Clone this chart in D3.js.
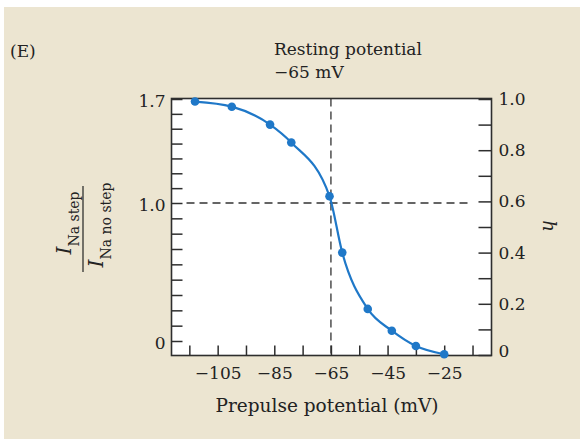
<!DOCTYPE html>
<html lang="en">
<head>
	<meta charset="UTF-8">
	<title>Sodium channel inactivation vs prepulse potential</title>
	<script src="https://d3js.org/d3.v7.min.js"></script>
	<style>
		body, html {
			margin: 0;
			padding: 0;
			background: #fff;
			overflow: hidden;
		}
		svg {
			display: block;
		}
		text {
			font-family: "DejaVu Serif", serif;
			fill: #222;
		}
		.axis text {
			font-size: 17px;
		}
		.axis line {
			stroke: #2e2e2e;
			stroke-width: 1.5;
		}
	</style>
</head>
<body>
	<svg></svg>

	<script>
		const prepulse = [-113, -100, -86.5, -79, -65.5, -61, -52, -43.5, -35, -25];
		const hValues = [0.99, 0.97, 0.90, 0.83, 0.62, 0.40, 0.18, 0.095, 0.035, 0.003];

		const xTicks = [-115, -105, -95, -85, -75, -65, -55, -45, -35, -25, -15];
		const xTickLabels = [-105, -85, -65, -45, -25];
		const hTicks = [0, 0.1, 0.2, 0.3, 0.4, 0.5, 0.6, 0.7, 0.8, 0.9, 1.0];
		const hTickLabels = [0, 0.2, 0.4, 0.6, 0.8, 1.0];
		const ratioTickLabels = [0, 1.0, 1.7];
		const restingPotential = -65;

		const width = 580, height = 439;
		const svg = d3.select("svg").attr("width", width).attr("height", height);

		// page background (scanned paper look)
		svg.append("rect").attr("x", 4).attr("y", 7)
			.attr("width", width - 4).attr("height", height - 7)
			.attr("fill", "#ece5d1");

		const plot = {left: 171.5, right: 491.5, top: 98.5, bottom: 355.5};

		const x = d3.scaleLinear().domain([-121.3, -8.3]).range([plot.left, plot.right]);
		const h = d3.scaleLinear().domain([0, 1]).range([355, 99]);
		// left axis is drawn unevenly in the original: 0..1.0 and 1.0..1.7
		const ratio = d3.scaleLinear().domain([0, 1.0, 1.7]).range([341, 203, 99]);
		const ratioTicks = d3.range(10).map(i => i / 9).concat(d3.range(1, 8).map(i => 1 + i / 10));

		svg.append("rect")
			.attr("x", plot.left).attr("y", plot.top)
			.attr("width", plot.right - plot.left).attr("height", plot.bottom - plot.top)
			.attr("fill", "#fff");

		const fmtMinus = d => "\u2212" + Math.abs(d);

		const gx = svg.append("g").attr("class", "axis")
			.attr("transform", `translate(0,${plot.bottom})`)
			.call(d3.axisBottom(x).tickValues(xTicks).tickSizeInner(-10).tickSizeOuter(0).tickPadding(11)
				.tickFormat(d => xTickLabels.includes(d) ? fmtMinus(d) : ""));

		const gl = svg.append("g").attr("class", "axis")
			.attr("transform", `translate(${plot.left},0)`)
			.call(d3.axisLeft(ratio).tickValues(ratioTicks).tickSizeInner(-11).tickSizeOuter(0).tickPadding(6)
				.tickFormat(d => {
					const m = ratioTickLabels.find(v => Math.abs(v - d) < 1e-6);
					return m === undefined ? "" : (m === 0 ? "0" : m.toFixed(1));
				}));

		const gr = svg.append("g").attr("class", "axis")
			.attr("transform", `translate(${plot.right},0)`)
			.call(d3.axisRight(h).tickValues(hTicks).tickSizeInner(-13).tickSizeOuter(0).tickPadding(7)
				.tickFormat(d => {
					const m = hTickLabels.find(v => Math.abs(v - d) < 1e-6);
					return m === undefined ? "" : (m === 0 ? "0" : m.toFixed(1));
				}));

		[gx, gl, gr].forEach(g => {
			g.select(".domain").remove();
			g.selectAll("text").attr("fill", "#222").style("font-family", "'DejaVu Serif', serif");
		});
		gl.selectAll("text").attr("dy", "0.45em");
		gr.selectAll("text").filter(d => d === 0).attr("dy", "0.1em");

		// dashed guides: resting potential and ratio = 1
		svg.append("line")
			.attr("x1", x(restingPotential)).attr("x2", x(restingPotential))
			.attr("y1", plot.top).attr("y2", plot.bottom)
			.attr("stroke", "#333").attr("stroke-width", 1.3).attr("stroke-dasharray", "8,5");
		svg.append("line")
			.attr("x1", x(-116)).attr("x2", x(-15))
			.attr("y1", ratio(1.0)).attr("y2", ratio(1.0))
			.attr("stroke", "#333").attr("stroke-width", 1.3).attr("stroke-dasharray", "8,5");

		// frame
		svg.append("rect")
			.attr("x", plot.left).attr("y", plot.top)
			.attr("width", plot.right - plot.left).attr("height", plot.bottom - plot.top)
			.attr("fill", "none").attr("stroke", "#2e2e2e").attr("stroke-width", 1.6);

		const points = prepulse.map((v, i) => ({v: v, h: hValues[i]}));

		const line = d3.line()
			.x(d => x(d.v))
			.y(d => h(d.h))
			.curve(d3.curveMonotoneX);

		svg.append("path")
			.datum(points)
			.attr("d", line)
			.attr("fill", "none")
			.attr("stroke", "#1f78c8")
			.attr("stroke-width", 2.2);

		svg.selectAll(".dot")
			.data(points)
			.enter().append("circle")
			.attr("class", "dot")
			.attr("cx", d => x(d.v))
			.attr("cy", d => h(d.h))
			.attr("r", 4.3)
			.attr("fill", "#1f78c8");

		// texts
		svg.append("text").attr("x", 10).attr("y", 57).attr("font-size", 17).text("(E)");
		svg.append("text").attr("x", 274).attr("y", 55).attr("font-size", 17).text("Resting potential");
		svg.append("text").attr("x", 274).attr("y", 78).attr("font-size", 17).text("\u221265 mV");

		svg.append("text")
			.attr("x", 327).attr("y", 412)
			.attr("text-anchor", "middle").attr("font-size", 18.5)
			.text("Prepulse potential (mV)");

		// left label: I_Na step / I_Na no step
		const frac = svg.append("g").attr("transform", "translate(83,229) rotate(-90)");
		const num = frac.append("text").attr("x", 6).attr("y", -12).attr("text-anchor", "middle");
		num.append("tspan").attr("font-size", 20).attr("font-style", "italic").text("I");
		num.append("tspan").attr("font-size", 14).attr("dy", 8).text("Na step");
		frac.append("line")
			.attr("x1", -43).attr("x2", 43).attr("y1", 0).attr("y2", 0)
			.attr("stroke", "#222").attr("stroke-width", 1.2);
		const den = frac.append("text").attr("x", 4).attr("y", 20).attr("text-anchor", "middle");
		den.append("tspan").attr("font-size", 20).attr("font-style", "italic").text("I");
		den.append("tspan").attr("font-size", 14).attr("dy", 8).text("Na no step");

		// right label h
		svg.append("text")
			.attr("transform", "translate(543,226) rotate(90)")
			.attr("text-anchor", "middle")
			.attr("font-size", 18).attr("font-style", "italic")
			.text("h");
	</script>
</body>
</html>
